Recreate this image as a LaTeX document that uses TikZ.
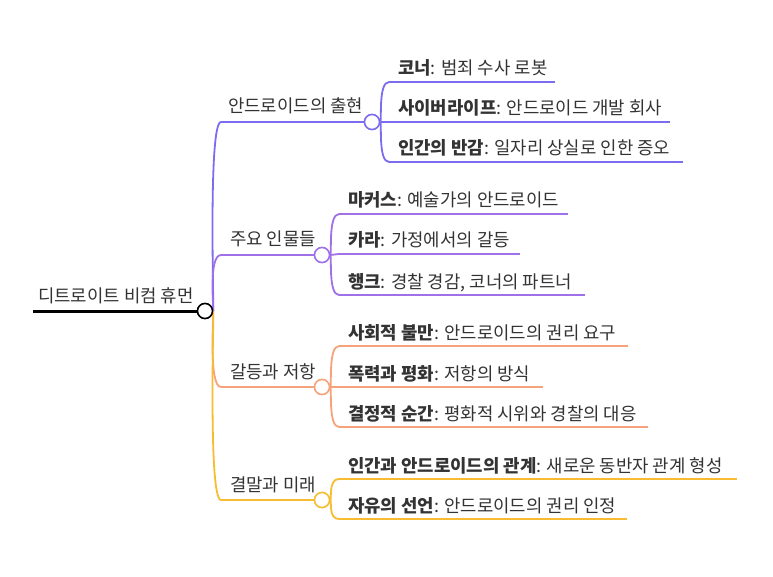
\documentclass[tikz,border=0pt]{standalone}
\usepackage{fontspec}
\setmainfont{Noto Sans CJK KR}
\definecolor{cA}{HTML}{7B6CF0}
\definecolor{cB}{HTML}{A070E8}
\definecolor{cC}{HTML}{F6A27A}
\definecolor{cD}{HTML}{F8BC30}
\definecolor{tx}{HTML}{333333}
\tikzset{
  lbl/.style={anchor=base west,inner sep=0pt,font=\fontsize{17.8}{20}\selectfont,text=tx},
  knob/.style={circle,draw,fill=white,line width=1.5pt,minimum size=15pt,inner sep=0pt},
  br/.style={line width=1.8pt}
}
\newcommand{\cnode}[6]{% color, name, x, y(underline), xend, text
  \node[lbl] (#2t) at (#3+9,#4-7) {#6};
  \coordinate (#2s) at (#3,#4);
  \coordinate (#2e) at (#5,#4);
  \draw[br,#1] (#2s) -- (#2e);
}
\begin{document}
\begin{tikzpicture}[x=1pt,y=-1pt]
\useasboundingbox (0,0) rectangle (773,577);
% root
\node[lbl] (roott) at (38,302) {디트로이트 비컴 휴먼};
\coordinate (roots) at (33,311);
\node[knob,draw=black] (root) at (205,311) {};
% branch curves from root
\foreach \c/\y in {cA/122,cB/255,cC/387,cD/500}{
  \draw[br,\c] (root) .. controls (214,311) and (208,\y) .. (221,\y);
}
\draw[line width=3pt,black] (roots) -- (root.west);
% branch 1
\node[lbl] (b1t) at (228,113) {안드로이드의 출현};
\draw[br,cA] (221,122) -- (364,122);
\node[knob,draw=cA] (b1) at (372,122) {};
\cnode{cA}{a1}{389}{82}{555}{\textbf{코너}: 범죄 수사 로봇}
\cnode{cA}{a2}{389}{122}{670}{\textbf{사이버라이프}: 안드로이드 개발 회사}
\cnode{cA}{a3}{389}{162}{683}{\textbf{인간의 반감}: 일자리 상실로 인한 증오}
% branch 2
\node[lbl] (b2t) at (230,246) {주요 인물들};
\draw[br,cB] (221,255) -- (314,255);
\node[knob,draw=cB] (b2) at (322,255) {};
\cnode{cB}{m1}{339}{214}{568}{\textbf{마커스}: 예술가의 안드로이드}
\cnode{cB}{m2}{339}{254}{520}{\textbf{카라}: 가정에서의 갈등}
\cnode{cB}{m3}{339}{295}{585}{\textbf{행크}: 경찰 경감, 코너의 파트너}
% branch 3
\node[lbl] (b3t) at (230,378) {갈등과 저항};
\draw[br,cC] (221,387) -- (314,387);
\node[knob,draw=cC] (b3) at (322,387) {};
\cnode{cC}{g1}{339}{346}{628}{\textbf{사회적 불만}: 안드로이드의 권리 요구}
\cnode{cC}{g2}{339}{387}{543}{\textbf{폭력과 평화}: 저항의 방식}
\cnode{cC}{g3}{339}{427}{648}{\textbf{결정적 순간}: 평화적 시위와 경찰의 대응}
% branch 4
\node[lbl] (b4t) at (230,491) {결말과 미래};
\draw[br,cD] (221,500) -- (314,500);
\node[knob,draw=cD] (b4) at (322,500) {};
\cnode{cD}{e1}{339}{479}{737}{\textbf{인간과 안드로이드의 관계}: 새로운 동반자 관계 형성}
\cnode{cD}{e2}{339}{519}{627}{\textbf{자유의 선언}: 안드로이드의 권리 인정}
% child curves
\draw[br,cA] (b1.east) .. controls (382,122) and (378,82) .. (a1s);
\draw[br,cA] (b1.east) -- (a2s);
\draw[br,cA] (b1.east) .. controls (382,122) and (378,162) .. (a3s);
\draw[br,cB] (b2.east) .. controls (332,255) and (328,214) .. (m1s);
\draw[br,cB] (b2.east) -- (m2s);
\draw[br,cB] (b2.east) .. controls (332,255) and (328,295) .. (m3s);
\draw[br,cC] (b3.east) .. controls (332,387) and (328,346) .. (g1s);
\draw[br,cC] (b3.east) -- (g2s);
\draw[br,cC] (b3.east) .. controls (332,387) and (328,427) .. (g3s);
\draw[br,cD] (b4.east) .. controls (332,500) and (328,479) .. (e1s);
\draw[br,cD] (b4.east) .. controls (332,500) and (328,519) .. (e2s);
\node[knob,draw=black] at (root) {};
\foreach \b/\c in {b1/cA,b2/cB,b3/cC,b4/cD}{\node[knob,draw=\c] at (\b) {};}
\end{tikzpicture}
\end{document}
